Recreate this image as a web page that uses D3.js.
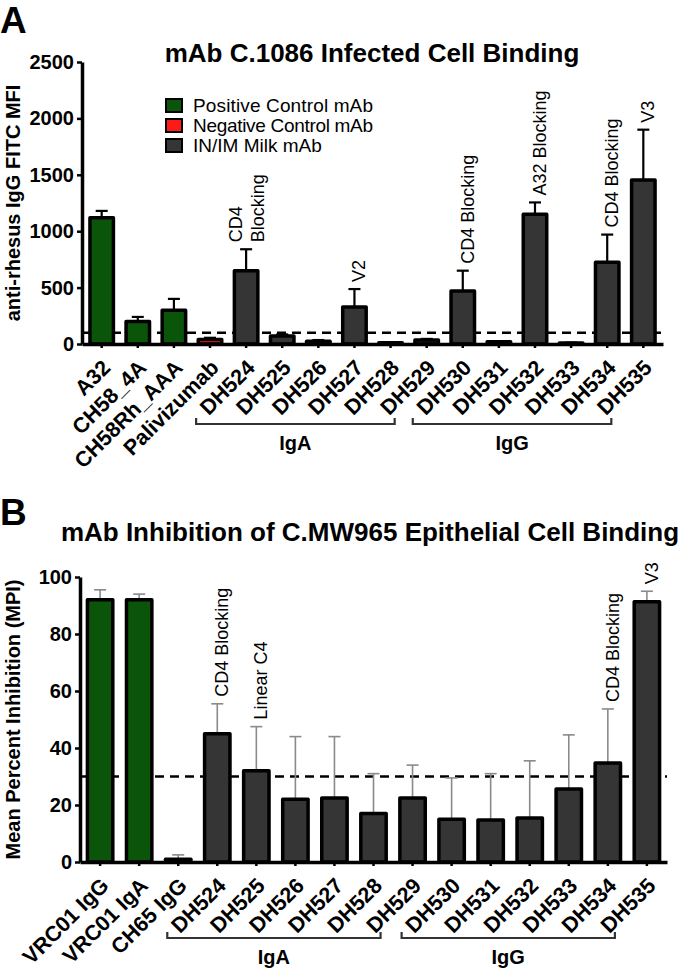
<!DOCTYPE html>
<html>
<head>
<meta charset="utf-8">
<script src="https://cdn.jsdelivr.net/npm/d3@7"></script>
<style>
  body { margin: 0; background: #fff; }
  svg { display: block; font-family: Arial, "Liberation Sans", sans-serif; }
</style>
</head>
<body>
<div id="wrapper"></div>
<script>
// Panel A data: infected cell binding (MFI)
const catsA = ["A32", "CH58_4A", "CH58Rh_AAA", "Palivizumab", "DH524", "DH525", "DH526", "DH527",
  "DH528", "DH529", "DH530", "DH531", "DH532", "DH533", "DH534", "DH535"];
const typeA = ["pos", "pos", "pos", "neg", "milk", "milk", "milk", "milk",
  "milk", "milk", "milk", "milk", "milk", "milk", "milk", "milk"];
const meanA = [1120, 200, 300, 40, 650, 70, 25, 328, 10, 35, 470, 20, 1150, 8, 725, 1455];
const errA = [1180, 240, 400, 55, 840, 85, 35, 487, 15, 45, 650, 25, 1255, 12, 970, 1900];
const notesA = [null, null, null, null, ["CD4", "Blocking"], null, null, ["V2"],
  null, null, ["CD4 Blocking"], null, ["A32 Blocking"], null, ["CD4 Blocking"], ["V3"]];
const ticksA = [0, 500, 1000, 1500, 2000, 2500];
const cutoffA = 100;
const groupsA = [["IgA", "DH524", "DH529"], ["IgG", "DH530", "DH535"]];
const legendLabels = ["Positive Control mAb", "Negative  Control mAb", "IN/IM Milk mAb"];
const legendTypes = ["pos", "neg", "milk"];

// Panel B data: inhibition of epithelial cell binding (MPI)
const catsB = ["VRC01 IgG", "VRC01 IgA", "CH65 IgG", "DH524", "DH525", "DH526", "DH527", "DH528",
  "DH529", "DH530", "DH531", "DH532", "DH533", "DH534", "DH535"];
const typeB = ["pos", "pos", "milk", "milk", "milk", "milk", "milk", "milk",
  "milk", "milk", "milk", "milk", "milk", "milk", "milk"];
const meanB = [92, 92, 1, 45, 32, 22, 22.5, 17, 22.5, 15, 14.7, 15.4, 25.6, 34.7, 91.3];
const errB = [95.5, 94, 2.5, 55.5, 47.5, 44, 44, 31, 34, 29.5, 31, 35.5, 44.6, 53.7, 95];
const notesB = [null, null, null, ["CD4 Blocking"], ["Linear C4"], null, null, null,
  null, null, null, null, null, ["CD4 Blocking"], ["V3"]];
const ticksB = [0, 20, 40, 60, 80, 100];
const cutoffB = 30;
const groupsB = [["IgA", "DH524", "DH529"], ["IgG", "DH530", "DH535"]];

const colors = { pos: "#0a550a", neg: "#ff1a1a", milk: "#353535" };
const fontFam = "Arial, 'Liberation Sans', sans-serif";

const svg = d3.select("#wrapper").append("svg")
  .attr("width", 680)
  .attr("height", 972);

function drawPanel(p) {
  const x = d3.scaleBand()
    .domain(p.cats)
    .range([p.left, p.right])
    .paddingInner(0.35)
    .paddingOuter(p.outer);
  const y = d3.scaleLinear()
    .domain([0, p.yMax])
    .range([p.bottom, p.top]);
  const bw = x.bandwidth();
  const cx = c => x(c) + bw / 2;

  const g = svg.append("g");

  // panel letter + title
  g.append("text").attr("x", 0).attr("y", p.letterY)
    .attr("font-size", 37).attr("font-weight", "bold").text(p.letter);
  g.append("text").attr("x", p.titleX).attr("y", p.titleY)
    .attr("text-anchor", "middle").attr("font-size", 26).attr("font-weight", "bold")
    .text(p.title);

  // y label
  g.append("text")
    .attr("transform", `translate(${p.ylabX},${(p.top + p.bottom) / 2}) rotate(-90)`)
    .attr("text-anchor", "middle").attr("font-size", 20).attr("font-weight", "bold")
    .text(p.ylab);

  // cutoff line behind bars
  g.append("line")
    .attr("x1", p.left).attr("x2", p.right)
    .attr("y1", y(p.cutoff)).attr("y2", y(p.cutoff))
    .attr("stroke", "#000").attr("stroke-width", 2.5)
    .attr("stroke-dasharray", "9,6");

  // error bars (up only)
  const eb = g.append("g").attr("stroke", p.errColor).attr("stroke-width", p.errWidth);
  p.cats.forEach((c, i) => {
    eb.append("line").attr("x1", cx(c)).attr("x2", cx(c))
      .attr("y1", y(p.mean[i])).attr("y2", y(p.err[i]));
    eb.append("line").attr("x1", cx(c) - 6).attr("x2", cx(c) + 6)
      .attr("y1", y(p.err[i])).attr("y2", y(p.err[i]));
  });

  // bars
  g.append("g").selectAll("rect")
    .data(p.cats)
    .join("rect")
    .attr("x", c => x(c))
    .attr("width", bw)
    .attr("y", (c, i) => y(p.mean[i]))
    .attr("height", (c, i) => y(0) - y(p.mean[i]))
    .attr("fill", (c, i) => colors[p.type[i]])
    .attr("stroke", "#000")
    .attr("stroke-width", 3.5)
    .attr("stroke-linejoin", "round");

  // annotations above error bars
  p.cats.forEach((c, i) => {
    const n = p.notes[i];
    if (!n) return;
    const shift = n.length > 1 ? -4 : 11;
    const t = g.append("text")
      .attr("transform", `translate(${cx(c) + shift},${y(p.err[i]) - 7}) rotate(-90)`)
      .attr("font-size", 18);
    n.forEach((line, k) => {
      t.append("tspan").attr("x", 0).attr("dy", k === 0 ? 0 : 22).text(line);
    });
  });

  // axes
  const yAxis = g.append("g")
    .attr("transform", `translate(${p.left},0)`)
    .call(d3.axisLeft(y).tickValues(p.ticks).tickFormat(d3.format("d"))
      .tickSize(5).tickSizeOuter(0).tickPadding(3));
  yAxis.select(".domain").attr("stroke-width", 3.5);
  yAxis.selectAll(".tick line").attr("stroke-width", 2.5);
  yAxis.selectAll(".tick text").attr("font-size", 20).attr("font-weight", "bold")
    .attr("font-family", fontFam).attr("fill", "#000");

  const xAxis = g.append("g")
    .attr("transform", `translate(0,${p.bottom})`)
    .call(d3.axisBottom(x).tickSize(4).tickSizeOuter(0));
  xAxis.select(".domain").attr("stroke-width", 3.5);
  xAxis.selectAll(".tick line").attr("stroke-width", 2.5);
  xAxis.selectAll(".tick text")
    .attr("x", 0).attr("y", 0).attr("dy", 0)
    .attr("text-anchor", "end")
    .attr("transform", "translate(10,25) rotate(-45)")
    .attr("font-size", 21.5).attr("font-weight", "bold")
    .attr("font-family", fontFam).attr("fill", "#000");

  // group brackets
  p.groups.forEach(([name, first, last]) => {
    const x1 = cx(first) - 50, x2 = cx(last) - 32;
    g.append("path")
      .attr("d", `M${x1},${p.bracketY - 6}V${p.bracketY}H${x2}V${p.bracketY - 6}`)
      .attr("fill", "none").attr("stroke", "#333").attr("stroke-width", 2.2);
    g.append("text").attr("x", (x1 + x2) / 2).attr("y", p.bracketY + 26)
      .attr("text-anchor", "middle").attr("font-size", 20).attr("font-weight", "bold")
      .text(name);
  });

  return { x, y };
}

drawPanel({
  cats: catsA, type: typeA, mean: meanA, err: errA, notes: notesA,
  ticks: ticksA, yMax: 2500, cutoff: cutoffA, groups: groupsA,
  left: 82, right: 663, outer: 0.22, top: 62, bottom: 344,
  letter: "A", letterY: 33, title: "mAb C.1086 Infected Cell Binding", titleX: 372, titleY: 62,
  ylab: "anti-rhesus IgG FITC MFI", ylabX: 19.5,
  errColor: "#000", errWidth: 2.2, bracketY: 424
});

drawPanel({
  cats: catsB, type: typeB, mean: meanB, err: errB, notes: notesB,
  ticks: ticksB, yMax: 100, cutoff: cutoffB, groups: groupsB,
  left: 80, right: 667, outer: 0.19, top: 577, bottom: 862,
  letter: "B", letterY: 525, title: "mAb Inhibition of C.MW965 Epithelial Cell Binding", titleX: 370, titleY: 541,
  ylab: "Mean Percent Inhibition  (MPI)", ylabX: 19.5,
  errColor: "#8a8a8a", errWidth: 1.6, bracketY: 938
});

// legend for panel A
const legend = svg.append("g").attr("transform", "translate(166,99)");
legendLabels.forEach((lab, i) => {
  legend.append("rect").attr("x", 0).attr("y", i * 20).attr("width", 16).attr("height", 13)
    .attr("fill", colors[legendTypes[i]]).attr("stroke", "#000").attr("stroke-width", 2);
  legend.append("text").attr("x", 27).attr("y", i * 20 + 13)
    .attr("font-size", 19).attr("textLength", lab.length > 15 ? 180 : null).text(lab);
});
</script>
</body>
</html>
